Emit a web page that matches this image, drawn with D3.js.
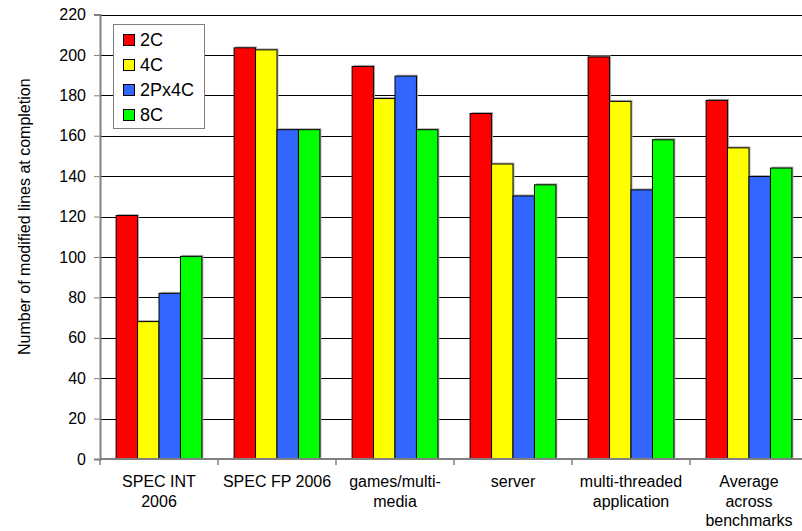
<!DOCTYPE html>
<html>
<head>
<meta charset="utf-8">
<script src="https://cdn.jsdelivr.net/npm/d3@7/dist/d3.min.js"></script>
<style>
  html, body { margin: 0; padding: 0; background: #fff; }
  svg { display: block; font-family: "Liberation Sans", Arial, sans-serif; }
</style>
</head>
<body>
<svg id="chart" width="802" height="531"></svg>
<script>
// Benchmark groups (multi-line labels)
const categories = [
  ["SPEC INT", "2006"],
  ["SPEC FP 2006"],
  ["games/multi-", "media"],
  ["server"],
  ["multi-threaded", "application"],
  ["Average", "across", "benchmarks"]
];
const seriesNames = ["2C", "4C", "2Px4C", "8C"];
const seriesColors = ["#ff0000", "#ffff00", "#3366ff", "#00ff00"];
const values2C    = [120.5, 203.5, 194.3, 171, 199, 177.5];
const values4C    = [68, 202.5, 178.4, 146, 177, 154];
const values2Px4C = [82, 163, 189.5, 130.2, 133.2, 139.8];
const values8C    = [100.3, 163, 163, 135.7, 158, 144];
const yTicks = [0, 20, 40, 60, 80, 100, 120, 140, 160, 180, 200, 220];
const yTitle = "Number of modified lines at completion";

const series = [values2C, values4C, values2Px4C, values8C];

const svg = d3.select("#chart");
const plotLeft = 100, plotRight = 808, plotTop = 14.5, plotBottom = 459;

const x0 = d3.scaleBand().domain(d3.range(categories.length)).range([plotLeft, plotRight]).paddingInner(0).paddingOuter(0);
const barW = x0.bandwidth() / 5.5;
const x1 = d3.scaleBand().domain(d3.range(seriesNames.length))
  .range([barW * 0.75, x0.bandwidth() - barW * 0.75]).padding(0);
const y = d3.scaleLinear().domain([0, 220]).range([plotBottom, plotTop]);

// horizontal gridlines
svg.append("g").selectAll("line").data(yTicks.filter(t => t > 0)).join("line")
  .attr("x1", plotLeft).attr("x2", plotRight)
  .attr("y1", d => Math.round(y(d)) + 0.5).attr("y2", d => Math.round(y(d)) + 0.5)
  .attr("stroke", "#000").attr("stroke-width", 1);

// bars with a soft offset shadow
const groups = svg.append("g").selectAll("g").data(categories).join("g")
  .attr("transform", (d, i) => `translate(${x0(i)},0)`);

groups.each(function(c, ci) {
  const g = d3.select(this);
  const rows = series.map((s, si) => ({ si, v: s[ci] }));
  g.selectAll("rect.shadow").data(rows).join("rect").attr("class", "shadow")
    .attr("x", d => x1(d.si) + 1.5).attr("y", d => y(d.v) - 1.5)
    .attr("width", x1.bandwidth()).attr("height", d => plotBottom - y(d.v))
    .attr("fill", "#b0b0b0");
  g.selectAll("rect.bar").data(rows).join("rect").attr("class", "bar")
    .attr("x", d => x1(d.si)).attr("y", d => y(d.v))
    .attr("width", x1.bandwidth()).attr("height", d => plotBottom - y(d.v))
    .attr("fill", d => seriesColors[d.si])
    .attr("stroke", "#000").attr("stroke-width", 1);
});

// y axis
const yAxis = d3.axisLeft(y).tickValues(yTicks).tickSize(6).tickPadding(8);
const yg = svg.append("g").attr("transform", `translate(${plotLeft},0)`).call(yAxis);
yg.select(".domain").attr("stroke", "#808080").attr("stroke-width", 2);
yg.selectAll(".tick line").attr("stroke", "#808080");
yg.selectAll(".tick text").attr("font-size", 16).attr("fill", "#000")
  .attr("font-family", "Liberation Sans, Arial, sans-serif");

// x axis (ticks on category boundaries)
svg.append("line").attr("x1", plotLeft).attr("x2", plotRight).attr("y1", plotBottom).attr("y2", plotBottom)
  .attr("stroke", "#808080").attr("stroke-width", 2);
const xb = d3.scaleLinear().domain([0, categories.length]).range([plotLeft, plotRight]);
svg.append("g").selectAll("line").data(d3.range(categories.length + 1)).join("line")
  .attr("x1", d => xb(d)).attr("x2", d => xb(d))
  .attr("y1", plotBottom).attr("y2", plotBottom + 6)
  .attr("stroke", "#808080").attr("stroke-width", 1.5);

const labels = svg.append("g").selectAll("text").data(categories).join("text")
  .attr("x", (d, i) => x0(i) + x0.bandwidth() / 2)
  .attr("y", 487)
  .attr("text-anchor", "middle").attr("font-size", 16).attr("fill", "#000");
labels.each(function(lines) {
  const t = d3.select(this);
  lines.forEach((ln, k) => {
    t.append("tspan").attr("x", t.attr("x")).attr("dy", k === 0 ? 0 : 19.5).text(ln);
  });
});

// y axis title
svg.append("text")
  .attr("transform", `translate(30,${(plotTop + plotBottom) / 2 - 20}) rotate(-90)`)
  .attr("text-anchor", "middle").attr("font-size", 16).attr("fill", "#000")
  .text(yTitle);

// legend
const lg = svg.append("g");
lg.append("rect").attr("x", 113.5).attr("y", 24.5).attr("width", 91).attr("height", 104)
  .attr("fill", "#fff").attr("stroke", "#808080").attr("stroke-width", 1);
const items = lg.selectAll("g").data(seriesNames).join("g")
  .attr("transform", (d, i) => `translate(0,${40 + i * 25})`);
items.append("rect").attr("x", 123.5).attr("y", -5.5).attr("width", 11).attr("height", 11)
  .attr("fill", (d, i) => seriesColors[i]).attr("stroke", "#000");
items.append("text").attr("x", 140).attr("y", 0).attr("dy", "0.36em")
  .attr("font-size", 18).attr("fill", "#000").text(d => d);
</script>
</body>
</html>
